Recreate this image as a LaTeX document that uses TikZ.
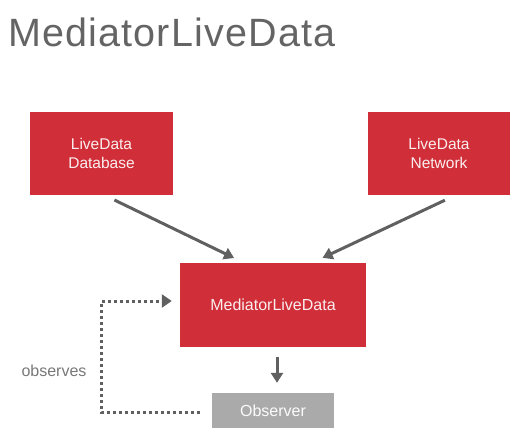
\documentclass[tikz,border=0pt]{standalone}
\usepackage{fontspec}
\setmainfont{Liberation Sans}
\newfontfamily\titlefont[LetterSpace=3]{Liberation Sans}
\usepackage{tikz}
\usetikzlibrary{arrows.meta, positioning, calc}
\definecolor{myred}{RGB}{208,46,56}
\definecolor{mygray}{RGB}{96,96,96}
\definecolor{mytitle}{RGB}{100,100,100}
\definecolor{mylabel}{RGB}{120,120,120}
\definecolor{myobs}{RGB}{170,170,170}
\tikzset{
  redblock/.style={rectangle, fill=myred, text=white!92!myred,
    align=center, inner sep=0pt, font=\fontsize{15.5}{19}\selectfont},
  grayblock/.style={rectangle, fill=myobs, text=white!95!myobs,
    align=center, inner sep=0pt, font=\fontsize{16}{19}\selectfont},
  arrow/.style={-{Triangle[length=10pt, width=12pt]}, line width=3pt, color=mygray},
  dotarrow/.style={-{Triangle[length=10pt, width=13pt]}, line width=3pt, color=mygray,
    dash pattern=on 2.6pt off 3.4pt}
}
\begin{document}
\begin{tikzpicture}[x=1pt, y=-1pt]
  \useasboundingbox (0,0) rectangle (527,447);
  % Title
  \node[anchor=base west, inner sep=0pt, text=mytitle,
    font=\titlefont\fontsize{39.5}{42}\selectfont] (title) at (8,46) {MediatorLiveData};

  % Sources
  \node[redblock, minimum width=143pt, minimum height=83pt] (db) at (101.5,153.5) {LiveData\\Database};
  \node[redblock, minimum width=142pt, minimum height=83pt] (net) at (439,153.5) {LiveData\\Network};

  % Mediator and observer
  \node[redblock, minimum width=186pt, minimum height=84pt,
    font=\fontsize{16}{19}\selectfont] (med) at (273,305) {MediatorLiveData};
  \node[grayblock, minimum width=122pt, minimum height=35pt] (obs) at (273,410.5) {Observer};
  \node[text=mylabel, font=\fontsize{16}{19}\selectfont, inner sep=0pt] (observes) at (54,371) {observes};

  % Arrows
  \draw[arrow, shorten <=11pt, shorten >=11pt] ([xshift=3pt]db.south) -- ([xshift=-29pt]med.north);
  \draw[arrow, shorten <=11.7pt, shorten >=11.7pt] ([xshift=16.5pt]net.south) -- ([xshift=39pt]med.north);
  \draw[arrow, shorten <=10pt, shorten >=10pt] ([xshift=4pt]med.south) -- ([xshift=4pt]med.south |- obs.north);
  \draw[dotarrow, shorten <=12pt, shorten >=8pt] ([yshift=-2pt]obs.west) -| ([xshift=-78pt, yshift=4pt]med.west) -- ([yshift=4pt]med.west);
\end{tikzpicture}
\end{document}
